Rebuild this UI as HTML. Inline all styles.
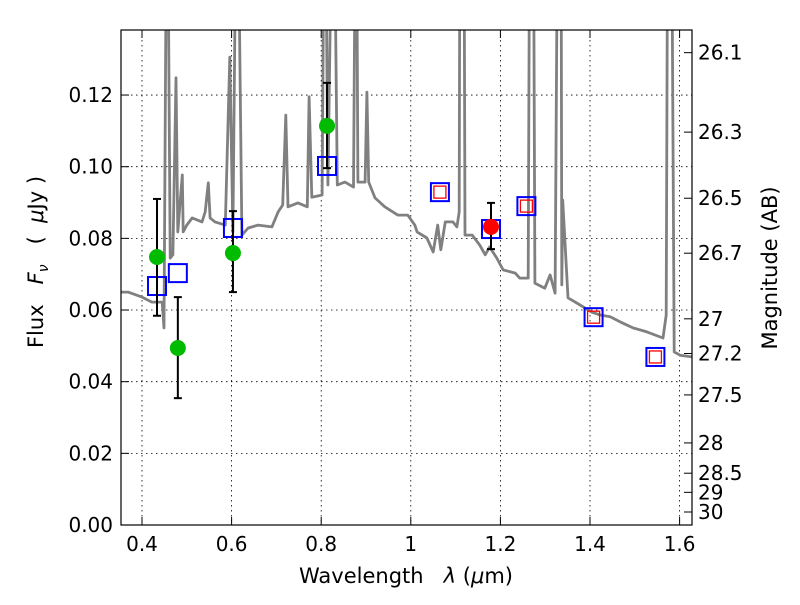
<!DOCTYPE html>
<html><head><meta charset="utf-8"><style>
body{margin:0;background:#fff}
svg text{font-family:"DejaVu Sans","Liberation Sans",sans-serif;fill:#000}
.pre{white-space:pre}
</style></head><body>
<svg id="chart" width="800" height="600" viewBox="0 0 800 600" xmlns="http://www.w3.org/2000/svg">
<defs><clipPath id="clip"><rect x="121" y="30" width="571" height="495"/></clipPath></defs>
<rect x="0" y="0" width="800" height="600" fill="#fff"/>
<g id="grid"></g>
<g id="spec" clip-path="url(#clip)"></g>
<g id="marks" clip-path="url(#clip)"></g>
<rect x="121" y="30" width="571" height="495" fill="none" stroke="#000" stroke-width="1.2"/>
<g id="axes"></g>
<text class="pre" x="406" y="583" text-anchor="middle" font-size="21">Wavelength   <tspan font-style="italic">λ</tspan> (<tspan font-style="italic">μ</tspan>m)</text>
<text class="pre" transform="translate(43,262) rotate(-90)" text-anchor="middle" font-size="21">Flux   <tspan font-style="italic">F</tspan><tspan font-style="italic" font-size="14" dy="5">ν</tspan><tspan dy="-5">   (  </tspan><tspan font-style="italic">μ</tspan>Jy )</text>
<text transform="translate(777,268) rotate(-90)" text-anchor="middle" font-size="21">Magnitude (AB)</text>
</svg>
<script>
const specX=[0.352,0.369,0.400,0.422,0.445,0.449,0.456,0.463,0.469,0.476,0.480,0.490,0.492,0.500,0.512,0.534,0.541,0.548,0.552,0.563,0.586,0.596,0.603,0.612,0.623,0.637,0.659,0.690,0.704,0.714,0.721,0.726,0.748,0.769,0.773,0.779,0.802,0.808,0.815,0.827,0.836,0.853,0.872,0.878,0.882,0.898,0.902,0.906,0.920,0.942,0.971,0.993,1.009,1.014,1.036,1.050,1.060,1.067,1.077,1.094,1.103,1.108,1.110,1.118,1.121,1.137,1.154,1.166,1.176,1.192,1.206,1.233,1.243,1.262,1.266,1.273,1.277,1.299,1.311,1.322,1.329,1.335,1.337,1.339,1.351,1.378,1.404,1.423,1.445,1.467,1.496,1.527,1.563,1.570,1.574,1.581,1.588,1.601,1.630];
const specY=[0.065,0.065,0.0636,0.0622,0.0622,0.055,0.2,0.0745,0.0754,0.1248,0.0818,0.0977,0.0818,0.0837,0.0857,0.0846,0.0874,0.0955,0.0857,0.0846,0.0837,0.1306,0.0818,0.2,0.0809,0.0829,0.0837,0.0832,0.0874,0.0893,0.1144,0.0888,0.0899,0.0888,0.1195,0.0915,0.0921,0.2,0.0949,0.2,0.0949,0.0957,0.0943,0.2,0.0957,0.0957,0.1208,0.0957,0.0913,0.0888,0.0865,0.0865,0.0837,0.0818,0.0801,0.0762,0.0837,0.0768,0.0846,0.0846,0.0832,0.0874,0.2,0.2,0.0809,0.0809,0.0781,0.0754,0.0776,0.0745,0.0712,0.0703,0.0689,0.0689,0.2,0.2,0.0675,0.0661,0.0698,0.0647,0.2,0.2,0.067,0.0907,0.0634,0.0614,0.0594,0.0586,0.0581,0.0567,0.055,0.0539,0.0522,0.0586,0.2,0.2,0.0483,0.0474,0.0469];
const greenX=[0.4335,0.480,0.603,0.813];
const greenY=[0.0748,0.0494,0.0759,0.1114];
const greenHi=[0.0910,0.0636,0.0876,0.1234];
const greenLo=[0.0584,0.0354,0.0650,0.0996];
const redX=[1.179];
const redY=[0.0832];
const redHi=[0.0899];
const redLo=[0.0770];
const blueX=[0.4335,0.480,0.603,0.813,1.065,1.179,1.258,1.408,1.546];
const blueY=[0.0667,0.0703,0.0829,0.1002,0.0929,0.0826,0.0890,0.0580,0.0469];
const modelX=[1.065,1.258,1.408,1.546];
const modelY=[0.0929,0.0890,0.0580,0.0469];
const xTicks=[0.4,0.6,0.8,1.0,1.2,1.4,1.6];
const xTickLabels=["0.4","0.6","0.8","1","1.2","1.4","1.6"];
const yTicks=[0,0.02,0.04,0.06,0.08,0.10,0.12];
const yTickLabels=["0.00","0.02","0.04","0.06","0.08","0.10","0.12"];
const magTicks=[26.1,26.3,26.5,26.7,27,27.2,27.5,28,28.5,29,30];
const magLabels=["26.1","26.3","26.5","26.7","27","27.2","27.5","28","28.5","29","30"];

const NS="http://www.w3.org/2000/svg";
const X=v=>142+(v-0.4)*448;
const Y=v=>525-v*3583;
const magToFlux=m=>Math.pow(10,(23.9-m)/2.5);
function mk(tag,attrs,parent){const e=document.createElementNS(NS,tag);for(const k in attrs)e.setAttribute(k,attrs[k]);parent.appendChild(e);return e;}
const grid=document.getElementById('grid'),spec=document.getElementById('spec'),marks=document.getElementById('marks'),axes=document.getElementById('axes');

xTicks.forEach(g=>{const l=mk('line',{x1:X(g),x2:X(g),y1:30,y2:525,stroke:'#000','stroke-width':0.8,'stroke-dasharray':'1.5,3.5'},grid);

});
yTicks.forEach(t=>{if(t===0)return;const l=mk('line',{x1:121,x2:692,y1:Y(t),y2:Y(t),stroke:'#000','stroke-width':0.8,'stroke-dasharray':'1.5,3.5'},grid);

});

const d=specX.map((x,i)=>(i?'L':'M')+X(x).toFixed(1)+','+Y(specY[i]).toFixed(1)).join(' ');
const sp=mk('path',{d:d,fill:'none',stroke:'#808080','stroke-width':2.8,'stroke-linejoin':'round'},spec);



function errbar(x,lo,hi){const g=mk('g',{stroke:'#000','stroke-width':2},marks);


mk('line',{x1:X(x),x2:X(x),y1:Y(lo),y2:Y(hi)},g);
mk('line',{x1:X(x)-4,x2:X(x)+4,y1:Y(lo),y2:Y(lo)},g);
mk('line',{x1:X(x)-4,x2:X(x)+4,y1:Y(hi),y2:Y(hi)},g);}
blueX.forEach((x,i)=>{const r=mk('rect',{x:X(x)-9,y:Y(blueY[i])-9,width:18,height:18,fill:'none',stroke:'#0000ff','stroke-width':2},marks);

});
modelX.forEach((x,i)=>{const r=mk('rect',{x:X(x)-6,y:Y(modelY[i])-6,width:12,height:12,fill:'none',stroke:'#ff0000','stroke-width':1.3},marks);

});
greenX.forEach((x,i)=>{errbar(x,greenLo[i],greenHi[i]);
const c=mk('circle',{cx:X(x),cy:Y(greenY[i]),r:8,fill:'#00bb00'},marks);

});
redX.forEach((x,i)=>{errbar(x,redLo[i],redHi[i]);
const c=mk('circle',{cx:X(x),cy:Y(redY[i]),r:8,fill:'#ff0000'},marks);

});

xTicks.forEach((t,i)=>{const x=X(t);
mk('line',{x1:x,x2:x,y1:525,y2:517,stroke:'#000'},axes);
mk('line',{x1:x,x2:x,y1:30,y2:38,stroke:'#000'},axes);
const tx=mk('text',{x:x,y:551,'text-anchor':'middle','font-size':20},axes);tx.textContent=xTickLabels[i];

});
yTicks.forEach((t,i)=>{const y=Y(t);
mk('line',{x1:121,x2:129,y1:y,y2:y,stroke:'#000'},axes);
const tx=mk('text',{x:113,y:y+7,'text-anchor':'end','font-size':20},axes);tx.textContent=yTickLabels[i];

});
magTicks.forEach((m,i)=>{const y=Y(magToFlux(m));
mk('line',{x1:692,x2:684,y1:y,y2:y,stroke:'#000'},axes);
const tx=mk('text',{x:698,y:y+7,'text-anchor':'start','font-size':20},axes);tx.textContent=magLabels[i];

});
</script>
</body></html>
